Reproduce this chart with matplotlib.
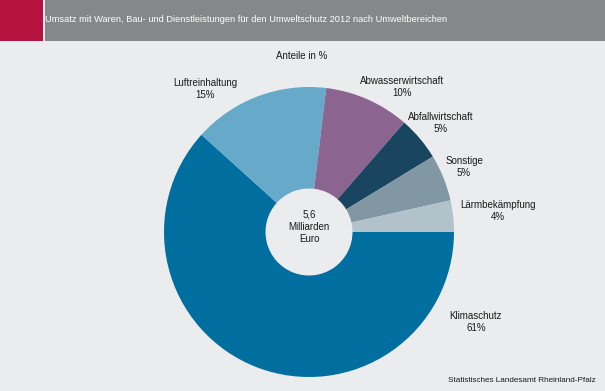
import matplotlib
matplotlib.use("Agg")
import matplotlib.pyplot as plt
from matplotlib.patches import Rectangle

categories = ["Klimaschutz", "Luftreinhaltung", "Abwasserwirtschaft",
              "Abfallwirtschaft", "Sonstige", "Lärmbekämpfung"]
# slice sizes (percent)
shares = [61.7, 15.2, 9.5, 4.9, 5.2, 3.5]
# printed (rounded) labels
pct_labels = ["61%", "15%", "10%", "5%", "5%", "4%"]
colors = ["#006fa0", "#66a9c8", "#8b6590", "#1a4560", "#8197a4", "#b2c2cb"]
label_px = [(476, 322), (205, 89.5), (402, 86.5), (441, 123.5), (464, 167), (498, 211)]

title = "Umsatz mit Waren, Bau- und Dienstleistungen für den Umweltschutz 2012 nach Umweltbereichen"
subtitle = "Anteile in %"
center_text = "5,6\nMilliarden\nEuro"
source = "Statistisches Landesamt Rheinland-Pfalz"

W, H = 605, 391
bg = "#ebeced"
plt.rcParams['font.family'] = ['Liberation Sans', 'DejaVu Sans']

fig = plt.figure(figsize=(W / 100, H / 100), dpi=100, facecolor=bg)

def fx(x):
    return x / W

def fy(y):
    return 1 - y / H

# header
fig.patches.append(Rectangle((0, fy(41)), fx(43), 41 / H, transform=fig.transFigure,
                             facecolor="#b5123e", edgecolor="none"))
fig.patches.append(Rectangle((fx(45), fy(41)), 1 - fx(45), 41 / H, transform=fig.transFigure,
                             facecolor="#868788", edgecolor="none"))
fig.text(fx(45), fy(20), title, color="white", fontsize=6.7, ha="left", va="center")

# pie
cx, cy, r = 309, 232, 145
ax = fig.add_axes([fx(cx - r), fy(cy + r), 2 * r / W, 2 * r / H])
ax.set_facecolor(bg)
ax.pie(shares, colors=colors, startangle=0, counterclock=False, radius=1,
       wedgeprops=dict(width=0.70, edgecolor="none", linewidth=0))
ax.set_xlim(-1, 1)
ax.set_ylim(-1, 1)
ax.set_aspect("equal")
ax.axis("off")

for cat, lab, (x, y) in zip(categories, pct_labels, label_px):
    fig.text(fx(x), fy(y), f"{cat}\n{lab}", ha="center", va="center",
             fontsize=7, color="#1a1a1a", linespacing=1.25)

fig.text(fx(302), fy(56), subtitle, ha="center", va="center", fontsize=7, color="#1a1a1a")
fig.text(fx(309), fy(227), center_text, ha="center", va="center", fontsize=7,
         color="#1a1a1a", linespacing=1.3)
fig.text(fx(596), fy(381), source, ha="right", va="center", fontsize=5.85, color="#1a1a1a")

fig.savefig("out.png", dpi=100, facecolor=bg)
